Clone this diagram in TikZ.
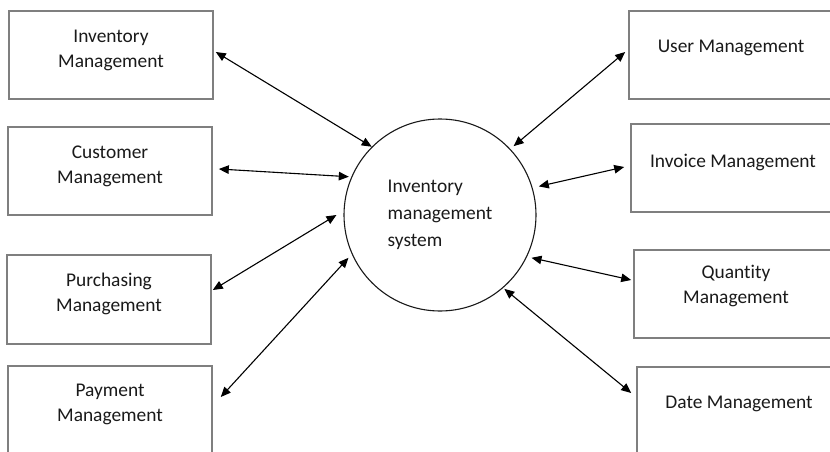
\documentclass[tikz,border=0pt]{standalone}
\usepackage{fontspec}
\setmainfont{Carlito}[Ligatures={NoCommon}]
\usetikzlibrary{arrows.meta}
\definecolor{boxline}{HTML}{7F7F7F}
\definecolor{ink}{HTML}{1A1A1A}
\begin{document}
\begin{tikzpicture}[x=1pt,y=-1pt,
  box/.style={draw=boxline,line width=1.6pt,minimum width=204pt,minimum height=88pt,inner sep=0pt},
  lbl/.style={text=ink,align=center,font=\fontsize{19.4}{25}\selectfont,inner sep=0pt},
  sysnode/.style={circle,draw=ink,line width=1.1pt,minimum size=192pt,inner sep=0pt,
    align=left,text=ink,font=\fontsize{19.4}{27}\selectfont},
  link/.style={draw=black,line width=1.1pt,{Triangle[length=10pt,width=8.5pt]}-{Triangle[length=10pt,width=8.5pt]}}]
\clip (0,0) rectangle (830,452);
\fill[white] (0,0) rectangle (830,452);

% central process
\node[sysnode] (sys) at (440,215) {Inventory\\management\\system};

% modules on the left
\node[box] (inv) at (111,55) {};
\node[lbl] (invt) at ([yshift=5pt]inv.center) {Inventory\\Management};
\node[box] (cus) at (110,171) {};
\node[lbl] (cust) at ([yshift=5pt]cus.center) {Customer\\Management};
\node[box,minimum height=89pt] (pur) at (109,299.5) {};
\node[lbl] (purt) at ([yshift=6pt]pur.center) {Purchasing\\Management};
\node[box] (pay) at (110,410) {};
\node[lbl] (payt) at ([yshift=6pt]pay.center) {Payment\\Management};

% modules on the right
\node[box] (usr) at (731,55) {};
\node[lbl] (usrt) at ([yshift=7pt]usr.center) {User Management};
\node[box] (ivc) at (733,168) {};
\node[lbl] (ivct) at ([yshift=6pt]ivc.center) {Invoice Management};
\node[box] (qty) at (736,294) {};
\node[lbl] (qtyt) at ([yshift=8pt]qty.center) {Quantity\\Management};
\node[box] (dat) at (739,411) {};
\node[lbl] (datt) at ([yshift=7pt]dat.center) {Date Management};

% data flows
\draw[link] ([xshift=2pt,yshift=3pt]inv.east) -- (sys.135);
\draw[link] ([xshift=6pt,yshift=2pt]cus.east) -- ([shift={(-3pt,-1pt)}]sys.156);
\draw[link] ([xshift=1pt,yshift=9.5pt]pur.east) -- ([xshift=-7pt]sys.180);
\draw[link] ([xshift=8pt,yshift=13pt]pay.east) -- ([shift={(-4pt,-2pt)}]sys.205);
\draw[link] ([xshift=-3pt,yshift=3pt]usr.west) -- ([shift={(3pt,3pt)}]sys.43);
\draw[link] ([xshift=-6pt,yshift=1pt]ivc.west) -- ([xshift=6pt,yshift=2pt]sys.16);
\draw[link] ([xshift=-2pt,yshift=14pt]qty.west) -- ([shift={(4pt,-2pt)}]sys.-25);
\draw[link] ([xshift=-5pt,yshift=18pt]dat.west) -- ([shift={(1pt,-1pt)}]sys.-49);
\end{tikzpicture}
\end{document}
